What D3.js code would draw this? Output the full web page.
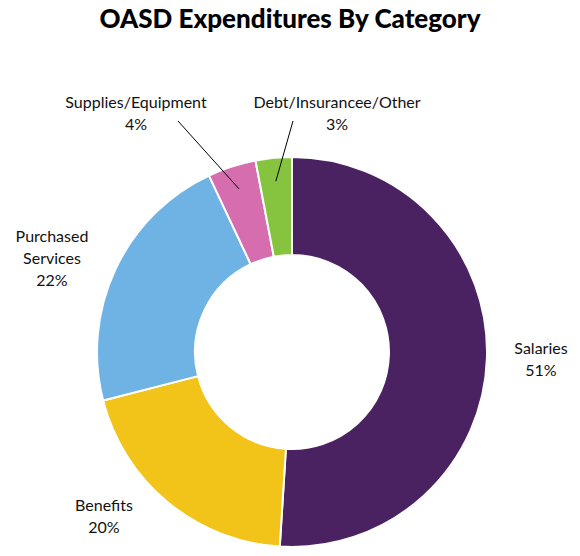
<!DOCTYPE html>
<html><head><meta charset="utf-8">
<script src="https://cdn.jsdelivr.net/npm/d3@7"></script>
<style>body{margin:0;background:#fff;font-family:Lato,"Open Sans",sans-serif}</style>
</head><body><div id="chart"></div>
<script>
const categories = ["Salaries", "Benefits", "Purchased Services", "Supplies/Equipment", "Debt/Insurancee/Other"];
const values = [51, 20, 22, 4, 3];
const colors = ["#4a2161", "#f2c318", "#6fb3e4", "#d66daf", "#86c440"];
// label text lines and anchor spots
const labelLines = [["Salaries", "51%"], ["Benefits", "20%"], ["Purchased", "Services", "22%"], ["Supplies/Equipment", "4%"], ["Debt/Insurancee/Other", "3%"]];
const labelPos = [[541, 348], [104, 505], [52, 236], [136, 102], [337, 102]];
const leaders = [null, null, null, [178, 121], [293, 121]];

const W = 580, H = 556, CX = 292, CY = 352, R = 195, RI = 97;
const svg = d3.select("#chart").append("svg").attr("width", W).attr("height", H);

svg.append("text").attr("x", W / 2).attr("y", 28).attr("text-anchor", "middle")
  .style("font-size", "26px").style("font-weight", 900).style("font-family", "Lato")
  .text("OASD Expenditures By Category");

const pie = d3.pie().sort(null).value(d => d)(values);
const arc = d3.arc().innerRadius(RI).outerRadius(R);
const g = svg.append("g").attr("transform", `translate(${CX},${CY})`);
g.selectAll("path").data(pie).enter().append("path")
  .attr("d", arc).attr("fill", (d, i) => colors[i])
  .attr("stroke", "#fff").attr("stroke-width", 2);

const mid = d3.arc().innerRadius(R * 0.88).outerRadius(R * 0.88);
pie.forEach((d, i) => {
  if (!leaders[i]) return;
  const c = mid.centroid(d);
  svg.append("line").attr("x1", leaders[i][0]).attr("y1", leaders[i][1])
    .attr("x2", CX + c[0]).attr("y2", CY + c[1]).attr("stroke", "#000").attr("stroke-width", 1);
});

labelLines.forEach((lines, i) => {
  const t = svg.append("text").attr("text-anchor", "middle").style("font-size", "16px").attr("fill", "#111");
  lines.forEach((l, j) => t.append("tspan").attr("x", labelPos[i][0]).attr("y", labelPos[i][1] + 6 + j * 22).text(l));
});
</script></body></html>
